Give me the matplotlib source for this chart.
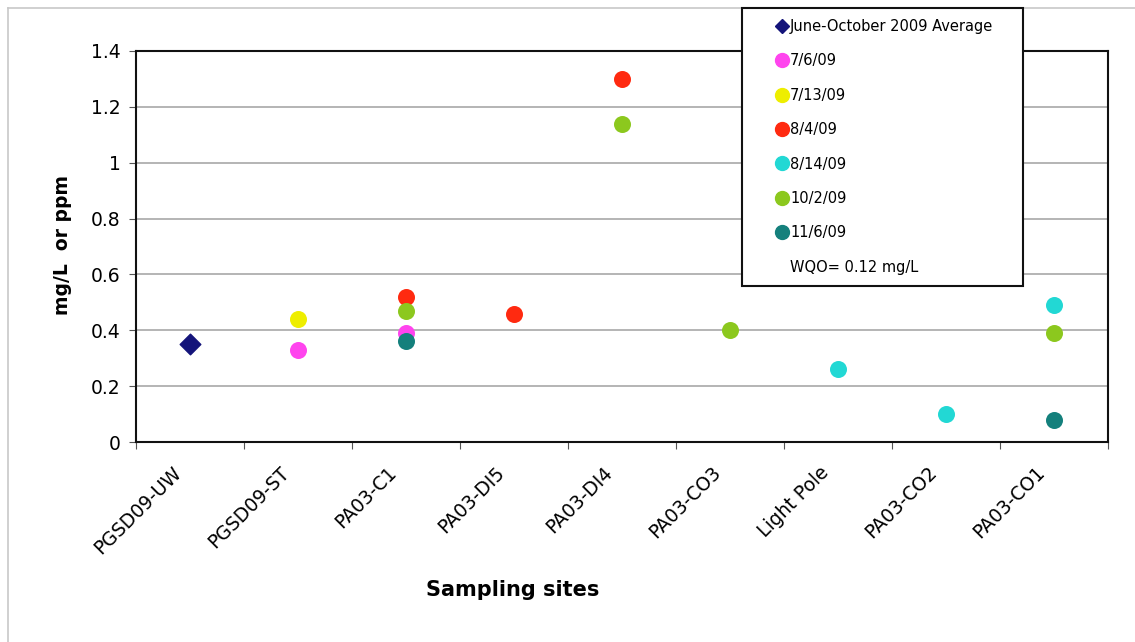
import matplotlib.pyplot as plt
from matplotlib.lines import Line2D
from matplotlib.transforms import ScaledTranslation
import numpy as np

sites = ["PGSD09-UW", "PGSD09-ST", "PA03-C1", "PA03-DI5", "PA03-DI4",
         "PA03-CO3", "Light Pole", "PA03-CO2", "PA03-CO1"]

# values per series, None where nothing was sampled
avg_2009 = [0.35, None, None, None, None, None, None, None, None]
d_7_6 = [None, 0.33, 0.39, None, None, None, None, None, None]
d_7_13 = [None, 0.44, None, None, None, None, None, None, None]
d_8_4 = [None, None, 0.52, 0.46, 1.30, None, None, None, None]
d_8_14 = [None, None, None, None, None, None, 0.26, 0.10, 0.49]
d_10_2 = [None, None, 0.47, None, 1.14, 0.40, None, None, 0.39]
d_11_6 = [None, None, 0.36, None, None, None, None, None, 0.08]

series = [
    ("7/6/09", d_7_6, "#ff44ee"),
    ("7/13/09", d_7_13, "#eeee00"),
    ("8/4/09", d_8_4, "#ff2a10"),
    ("8/14/09", d_8_14, "#22d8d4"),
    ("10/2/09", d_10_2, "#8cc81e"),
    ("11/6/09", d_11_6, "#14807c"),
]

fig = plt.figure(figsize=(11.35, 6.42), dpi=100)
ax = fig.add_axes([136/1135, 1-442/642, (1108-136)/1135, (442-51)/642])

def pts(vals):
    xs = [i for i, v in enumerate(vals) if v is not None]
    ys = [v for v in vals if v is not None]
    return xs, ys

x, y = pts(avg_2009)
ax.scatter(x, y, marker="D", s=110, color="#14147a", zorder=3)
for name, vals, col in series:
    x, y = pts(vals)
    ax.scatter(x, y, marker="o", s=150, color=col, zorder=3, linewidths=0)

ax.set_xlim(-0.5, len(sites) - 0.5)
ax.set_ylim(0, 1.4)
ax.set_yticks(np.arange(0, 1.41, 0.2))
ax.set_yticklabels(["0", "0.2", "0.4", "0.6", "0.8", "1", "1.2", "1.4"])
ax.yaxis.grid(True, color="#a8a8a8", lw=1.2)
ax.set_axisbelow(True)

ax.set_xticks(np.arange(-0.5, len(sites), 1.0))
ax.set_xticklabels([])
ax.set_xticks(np.arange(len(sites)), minor=True)
ax.set_xticklabels(sites, minor=True, rotation=45, ha="right", va="center",
                   rotation_mode="anchor", fontsize=13.5)
ax.tick_params(axis="x", which="minor", length=0, pad=20)
ax.tick_params(axis="x", which="major", length=5, color="#555555")
ax.tick_params(axis="y", labelsize=13.5, length=5, color="#555555", pad=6)
# nudge the slanted labels left, like the original
shift = ScaledTranslation(-12/100, 0, fig.dpi_scale_trans)
for lab in ax.get_xticklabels(minor=True):
    lab.set_transform(lab.get_transform() + shift)
for sp in ax.spines.values():
    sp.set_linewidth(1.5)
    sp.set_color("#111111")

fig.text(62/1135, 1-245/642, "mg/L  or ppm", rotation=90, fontsize=13.5,
         fontweight="bold", ha="center", va="center")
fig.text(513/1135, 1-590/642, "Sampling sites", fontsize=15,
         fontweight="bold", ha="center", va="center")

handles = [Line2D([], [], ls="none", marker="D", ms=7, color="#14147a")]
labels = ["June-October 2009 Average"]
for name, vals, col in series:
    handles.append(Line2D([], [], ls="none", marker="o", ms=10, color=col))
    labels.append(name)
handles.append(Line2D([], [], ls="none", marker="none"))
labels.append("WQO= 0.12 mg/L")

leg = fig.legend(handles, labels, loc="upper left", mode="expand",
                 bbox_to_anchor=(742/1135, 1-285/642, 281/1135, 277/642),
                 fontsize=10.5, frameon=True, fancybox=False,
                 edgecolor="#111111", framealpha=1, labelspacing=1.33,
                 handlelength=4.0, handletextpad=-1.45, borderpad=0.75,
                 borderaxespad=0)
leg.get_frame().set_linewidth(1.5)
leg.set_zorder(5)

# light outer frame of the chart area
fig.add_artist(Line2D([8/1135, 1], [1-8/642, 1-8/642], color="#c8c8c8", lw=1.2))
fig.add_artist(Line2D([8/1135, 8/1135], [0, 1-8/642], color="#c8c8c8", lw=1.2))

fig.savefig("out.png", dpi=100)
